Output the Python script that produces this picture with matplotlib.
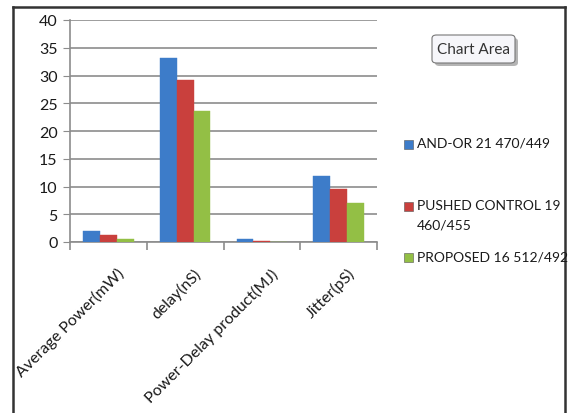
import matplotlib
matplotlib.use("Agg")
import matplotlib.pyplot as plt
import matplotlib.transforms as mtransforms
import numpy as np
from matplotlib.patches import Rectangle, FancyBboxPatch
from matplotlib.lines import Line2D

categories = ["Average Power(mW)", "delay(nS)", "Power-Delay product(MJ)", "Jitter(pS)"]
series_names = ["AND-OR 21 470/449", "PUSHED CONTROL 19\n460/455", "PROPOSED 16 512/492"]
and_or = [1.9, 33.2, 0.5, 11.9]
pushed = [1.3, 29.1, 0.25, 9.5]
proposed = [0.5, 23.6, 0.05, 7.1]
yticks = [0, 5, 10, 15, 20, 25, 30, 35, 40]

colors = ["#3d7cc9", "#c9403d", "#93bf45"]

plt.rcParams['font.family'] = ['Lato', 'DejaVu Sans']

W, H = 571, 414
fig = plt.figure(figsize=(W/100, H/100), dpi=100)
ax = fig.add_axes([70/W, 1-243/H, (377-70)/W, (243-21)/H])

x = np.arange(len(categories))
w = 0.22
for i, (vals, c) in enumerate(zip([and_or, pushed, proposed], colors)):
    xs = x + (i - 1) * w
    ax.bar(xs, vals, width=w, color=c, edgecolor=c, linewidth=0.3, zorder=3)

ax.set_xlim(-0.5, 3.5)
ax.set_ylim(0, 40)
ax.set_yticks(yticks)
ax.set_yticklabels([str(t) for t in yticks], fontsize=11.5, color="#1a1a1a")
ax.grid(axis='y', color="#8c8c8c", linewidth=1.2, zorder=0)
ax.set_axisbelow(True)
for s in ['top', 'right']:
    ax.spines[s].set_visible(False)
ax.spines['left'].set_color("#8c8c8c")
ax.spines['bottom'].set_color("#8c8c8c")
ax.spines['left'].set_linewidth(1.2)
ax.spines['bottom'].set_linewidth(1.2)
ax.tick_params(axis='y', length=5, color="#8c8c8c", pad=4)

ax.set_xticks(x)
ax.set_xticklabels(categories, rotation=45, ha='right', va='top',
                   rotation_mode='anchor', fontsize=11.5, color="#1a1a1a")
ax.tick_params(axis='x', length=0, pad=17)
offset = mtransforms.ScaledTranslation(6/72, 0, fig.dpi_scale_trans)
for lab in ax.get_xticklabels():
    lab.set_transform(lab.get_transform() + offset)
ax.set_xticks(np.arange(-0.5, 4.0, 1.0), minor=True)
ax.tick_params(axis='x', which='minor', length=6, color="#8c8c8c", width=1.2)

# Legend (manual placement to mimic spacing)
leg_y = [145, 207, 258]
for name, c, yy in zip(series_names, colors, leg_y):
    fig.patches.append(Rectangle((404/W, 1-(yy+4.5)/H), 9/W, 9/H, transform=fig.transFigure,
                                 fc=c, ec="#555555", lw=0.4))
    fig.text(417/W, 1-(yy-7)/H, name, ha='left', va='top', fontsize=10,
             color="#1a1a1a", linespacing=1.75)

# Chart Area tooltip with shadow
bx0, by0, bx1, by1 = 432, 36, 515, 64
fig.patches.append(FancyBboxPatch(((bx0+3)/W, 1-(by1+3)/H), (bx1-bx0)/W, (by1-by0)/H,
                                  boxstyle='round,pad=0,rounding_size=0.008',
                                  transform=fig.transFigure, fc="#b4b4b4", ec="none"))
fig.patches.append(FancyBboxPatch((bx0/W, 1-by1/H), (bx1-bx0)/W, (by1-by0)/H,
                                  boxstyle='round,pad=0,rounding_size=0.008',
                                  transform=fig.transFigure, fc="#f6f6fa", ec="#777777", lw=0.8))
fig.text((bx0+bx1)/2/W, 1-(by0+by1)/2/H, "Chart Area", ha='center', va='center',
         fontsize=11, color="#333333")

# outer frame (bottom edge cut off)
for xs_, ys_ in [([13, 13], [414, 8]), ([13, 565], [8, 8]), ([565, 565], [8, 414])]:
    fig.lines.append(Line2D([v/W for v in xs_], [1-v/H for v in ys_], transform=fig.transFigure,
                            color="#333333", lw=1.8))

fig.savefig("out.png", dpi=100)
